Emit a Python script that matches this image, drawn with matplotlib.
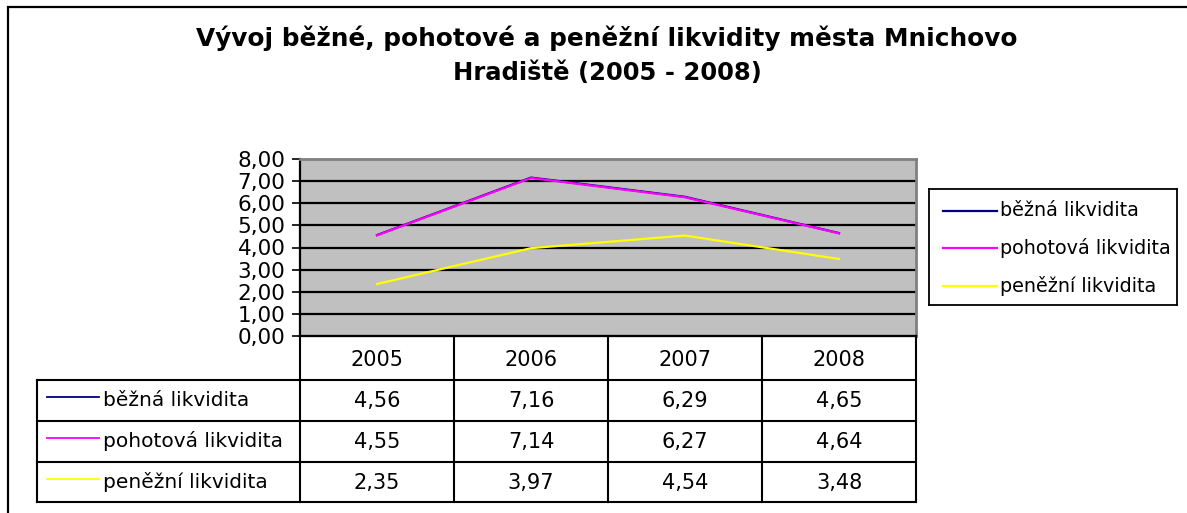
import matplotlib
matplotlib.use('Agg')
import matplotlib.pyplot as plt
from matplotlib.patches import Rectangle

plt.rcParams['font.family'] = ['DejaVu Sans']

# data
roky = ['2005', '2006', '2007', '2008']
serie = ['běžná likvidita', 'pohotová likvidita', 'peněžní likvidita']
bezna = [4.56, 7.16, 6.29, 4.65]
pohotova = [4.55, 7.14, 6.27, 4.64]
penezni = [2.35, 3.97, 4.54, 3.48]
barvy = ['#000080', '#FF00FF', '#FFFF00']
hodnoty = [bezna, pohotova, penezni]

W, H = 1187, 513


def rect(x0, y0, x1, y1):
    # pixel box -> figure fraction
    return [x0 / W, 1 - y1 / H, (x1 - x0) / W, (y1 - y0) / H]


fig = plt.figure(figsize=(W / 100, H / 100), dpi=100)

# outer frame
fig.patches.append(Rectangle((8 / W, -0.05), 1.2, 1 - 7 / H + 0.05, transform=fig.transFigure,
                             fill=False, edgecolor='black', lw=1.6))

fig.text(607 / W, 1 - 46 / H, 'Vývoj běžné, pohotové a peněžní likvidity města Mnichovo',
         ha='center', va='baseline', fontsize=17.8, fontweight='bold')
fig.text(607 / W, 1 - 80 / H, 'Hradiště (2005 - 2008)',
         ha='center', va='baseline', fontsize=17.5, fontweight='bold')

# graf
ax = fig.add_axes(rect(300, 159, 916, 336))
ax.set_facecolor('#C0C0C0')
x = range(len(roky))
for s, v, c in zip(serie, hodnoty, barvy):
    ax.plot(x, v, color=c, lw=1.6, label=s)
ax.set_xlim(-0.5, len(roky) - 0.5)
ax.set_ylim(0, 8)
ax.set_yticks(range(0, 9))
ax.set_yticklabels([f'{t:.2f}'.replace('.', ',') for t in range(0, 9)], fontsize=15.5)
ax.tick_params(axis='y', length=5.5, width=1.2, pad=5)
ax.set_xticks([])
for t in range(1, 8):
    ax.axhline(t, color='black', lw=1.6, zorder=1)
ax.spines['top'].set_color('#808080')
ax.spines['right'].set_color('#808080')
ax.spines['top'].set_linewidth(2)
ax.spines['right'].set_linewidth(2)
ax.spines['left'].set_linewidth(1.6)
ax.spines['bottom'].set_linewidth(1.6)

# legenda
lax = fig.add_axes(rect(929, 189, 1177, 305))
lax.set_xlim(0, 1)
lax.set_ylim(0, 1)
lax.set_xticks([])
lax.set_yticks([])
for sp in lax.spines.values():
    sp.set_linewidth(1.3)
leg_y = [211, 248, 286]
for s, c, yy in zip(serie, barvy, leg_y):
    fy = 1 - (yy - 189) / (305 - 189)
    lax.plot([(943 - 929) / 248, (997 - 929) / 248], [fy, fy], color=c, lw=1.6)
    lax.text((1000 - 929) / 248, fy, s, va='center', ha='left', fontsize=13.8)

# tabulka
tx0, tx1, ty0, ty1 = 37, 916, 336, 502
tax = fig.add_axes(rect(tx0, ty0, tx1, ty1))
tax.set_xlim(tx0, tx1)
tax.set_ylim(ty1, ty0)
tax.axis('off')
col_x = [37, 300, 454, 608, 762, 916]
row_y = [336, 380, 421, 462, 502]
lw = 1.5
# horizontal lines
tax.plot([300, 916], [336, 336], color='black', lw=lw, clip_on=False)
for yy in row_y[1:]:
    tax.plot([37, 916], [yy, yy], color='black', lw=lw, clip_on=False)
# vertical lines
tax.plot([37, 37], [380, 502], color='black', lw=lw, clip_on=False)
for xx in col_x[1:]:
    tax.plot([xx, xx], [336, 502], color='black', lw=lw, clip_on=False)
# header
for i, r in enumerate(roky):
    tax.text((col_x[i + 1] + col_x[i + 2]) / 2, (row_y[0] + row_y[1]) / 2 + 2, r,
             ha='center', va='center', fontsize=15)
# rows
for j, (s, v, c) in enumerate(zip(serie, hodnoty, barvy)):
    yc = (row_y[j + 1] + row_y[j + 2]) / 2
    tax.plot([47, 99], [yc - 3, yc - 3], color=c, lw=1.3, clip_on=False)
    tax.text(103, yc, s, ha='left', va='center', fontsize=14.5)
    for i, val in enumerate(v):
        tax.text((col_x[i + 1] + col_x[i + 2]) / 2, yc + 1, f'{val:.2f}'.replace('.', ','),
                 ha='center', va='center', fontsize=15)

fig.savefig('out.png', dpi=100)
